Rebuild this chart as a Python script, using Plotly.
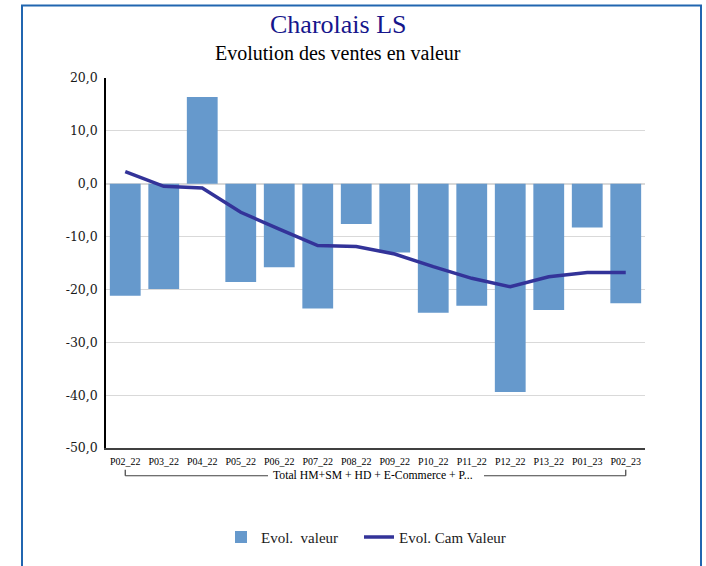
import plotly.graph_objects as go

categories = ["P02_22", "P03_22", "P04_22", "P05_22", "P06_22", "P07_22", "P08_22",
              "P09_22", "P10_22", "P11_22", "P12_22", "P13_22", "P01_23", "P02_23"]
evol_valeur = [-21.2, -19.9, 16.4, -18.6, -15.8, -23.6, -7.6,
               -13.0, -24.4, -23.1, -39.4, -23.9, -8.3, -22.6]
evol_cam_valeur = [2.3, -0.5, -0.8, -5.4, -8.6, -11.7, -11.9,
                   -13.3, -15.7, -17.9, -19.5, -17.6, -16.8, -16.8]
y_tick_values = [-50, -40, -30, -20, -10, 0, 10, 20]
y_tick_labels = ["-50,0", "-40,0", "-30,0", "-20,0", "-10,0", "0,0", "10,0", "20,0"]
group_label = "Total HM+SM + HD + E-Commerce + P..."

# the page's body margin is removed (post_script below), so figure px == page px
W, H = 706, 566
L = 106
T = 78
R = W - 645
B = H - 451
pw, ph = W - L - R, H - T - B


def px_x(x):
    return (x - L) / pw


def px_y(y):
    return (H - B - y) / ph


serif = "Liberation Serif"

fig = go.Figure()
fig.add_trace(go.Bar(
    x=categories, y=evol_valeur, name="Evol.\u00a0 valeur",
    marker=dict(color="#6699cc", line=dict(width=0)),
    legend="legend",
))
fig.add_trace(go.Scatter(
    x=categories, y=evol_cam_valeur, name="Evol. Cam Valeur", mode="lines",
    line=dict(color="#333399", width=3.5),
    legend="legend2",
))

legend_font = dict(family=serif, size=15, color="#1a1a1a")
fig.update_layout(
    width=W, height=H,
    margin=dict(l=L, r=R, t=T, b=B, pad=0),
    paper_bgcolor="white", plot_bgcolor="white",
    bargap=0.2,
    font=dict(family=serif, color="#000000"),
    showlegend=True,
    legend=dict(orientation="h", x=px_x(221), xanchor="left", y=px_y(541), yanchor="middle",
                font=legend_font, bgcolor="rgba(0,0,0,0)"),
    legend2=dict(orientation="h", x=px_x(359), xanchor="left", y=px_y(541), yanchor="middle",
                 font=legend_font, bgcolor="rgba(0,0,0,0)"),
    xaxis=dict(
        type="category", showgrid=False, showline=True, linecolor="#404040", linewidth=1.5,
        tickfont=dict(family=serif, size=10, color="#000000"), ticks="",
        tickangle=0, range=[-0.5, len(categories) - 0.5], ticklabelstandoff=3,
    ),
    yaxis=dict(
        range=[-50, 20], tickvals=y_tick_values, ticktext=y_tick_labels,
        showgrid=True, gridcolor="#d9d9d9", gridwidth=1.2,
        zeroline=True, zerolinecolor="#d9d9d9", zerolinewidth=1.5,
        showline=True, linecolor="#000000", linewidth=1.5,
        tickfont=dict(family="DejaVu Serif", size=12.5, color="#1a1a1a"), ticks="",
        ticklabelstandoff=4,
    ),
)

# outer blue frame (open at the bottom)
fig.add_shape(type="rect", xref="paper", yref="paper",
              x0=px_x(22), x1=px_x(701), y0=px_y(620), y1=px_y(5),
              line=dict(color="#2166b0", width=2), fillcolor="rgba(0,0,0,0)", layer="below")

# group bracket under category labels (from first to last category centre, gap for the label)
n = len(categories)
first_c = 0.5 / n
last_c = (n - 0.5) / n
bracket = dict(color="#404040", width=1.2)
yb, yt = px_y(479), px_y(473)
fig.add_shape(type="line", xref="paper", yref="paper", x0=first_c, x1=px_x(268), y0=yb, y1=yb, line=bracket)
fig.add_shape(type="line", xref="paper", yref="paper", x0=px_x(484), x1=last_c, y0=yb, y1=yb, line=bracket)
fig.add_shape(type="line", xref="paper", yref="paper", x0=first_c, x1=first_c, y0=yt, y1=yb, line=bracket)
fig.add_shape(type="line", xref="paper", yref="paper", x0=last_c, x1=last_c, y0=yt, y1=yb, line=bracket)
fig.add_annotation(xref="paper", yref="paper", x=px_x(373), y=px_y(478.5), text=group_label,
                   showarrow=False, font=dict(family=serif, size=11.7, color="#000000"),
                   xanchor="center", yanchor="middle")

# titles
fig.add_annotation(xref="paper", yref="paper", x=px_x(338), y=px_y(24), text="Charolais LS",
                   showarrow=False, font=dict(family=serif, size=26, color="#16168c"),
                   xanchor="center", yanchor="middle")
fig.add_annotation(xref="paper", yref="paper", x=px_x(338), y=px_y(53),
                   text="Evolution des ventes en valeur",
                   showarrow=False, font=dict(family=serif, size=20, color="#000000"),
                   xanchor="center", yanchor="middle")

fig.write_html(
    "out.html",
    config={"displayModeBar": False},
    post_script="document.body.style.margin='0';document.body.style.overflow='hidden';",
)
